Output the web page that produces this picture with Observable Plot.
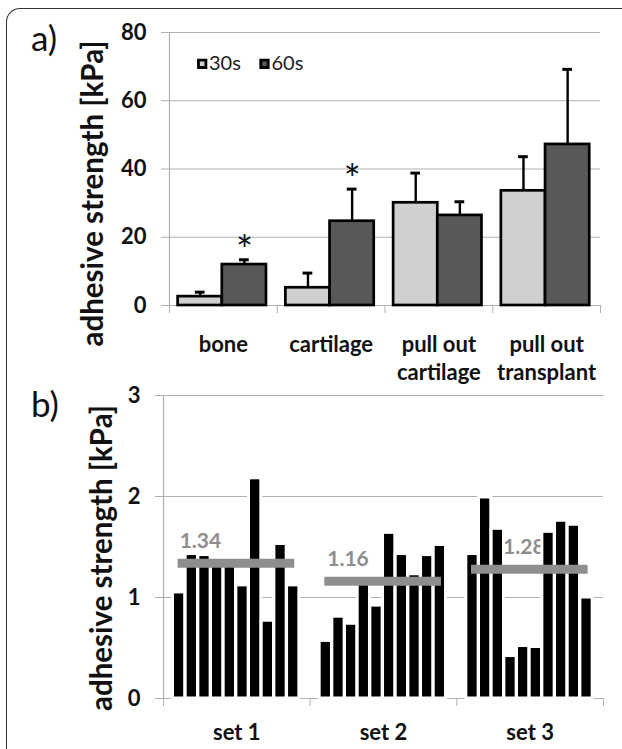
<!DOCTYPE html>
<html>
<head>
<meta charset="utf-8">
<script src="https://cdn.jsdelivr.net/npm/d3@7"></script>
<script src="https://cdn.jsdelivr.net/npm/@observablehq/plot@0.6"></script>
<style>
  html, body { margin: 0; padding: 0; background: #fff; }
  #wrap { position: relative; width: 622px; height: 749px; overflow: hidden; background: #fff; font-family: Lato, sans-serif; }
  #frame { position: absolute; left: 6px; top: 8px; width: 700px; height: 800px; border-left: 1.6px solid #333; border-top: 1.6px solid #333; border-top-left-radius: 14px; }
  .panel { position: absolute; left: 0; }
  .tag { position: absolute; left: 31px; font-size: 35px; color: #111; line-height: 1; }
</style>
</head>
<body>
<div id="wrap">
  <div id="frame"></div>
  <div id="b" class="panel" style="top:380px"></div>
  <div id="a" class="panel" style="top:0px"></div>
  <div class="tag" style="top:20px">a)</div>
  <div class="tag" style="top:386px">b)</div>
</div>
<script>
// ---------- Data: panel a ----------
const categoriesA = ["bone", "cartilage", "pull out\ncartilage", "pull out\ntransplant"];
const seriesA = ["30s", "60s"];
const mean30 = [2.6, 5.2, 30.1, 33.6];
const err30 = [1.3, 4.3, 8.7, 10.0];
const mean60 = [12.0, 24.7, 26.4, 47.2];
const err60 = [1.4, 9.4, 4.0, 22.0];
const significant60 = [true, true, false, false];
const yTicksA = [0, 20, 40, 60, 80];
const yLabel = "adhesive strength [kPa]";

// ---------- Data: panel b ----------
const setsB = ["set 1", "set 2", "set 3"];
const set1 = [1.05, 1.43, 1.42, 1.36, 1.36, 1.12, 2.18, 0.77, 1.53, 1.12];
const set2 = [0.57, 0.81, 0.74, 1.15, 0.92, 1.64, 1.43, 1.23, 1.42, 1.52];
const set3 = [1.43, 1.99, 1.68, 0.42, 0.52, 0.51, 1.65, 1.76, 1.72, 1.00];
const meansB = [1.34, 1.16, 1.28];
const yTicksB = [0, 1, 2, 3];

// ---------- Layout / style ----------
const FONT = "Lato, sans-serif";
const fill30 = "#d0d0d0", fill60 = "#585858";
const gridColor = "#b0b0b0";
const meanColor = "#8e8e8e";
const groupInsetA = 0.08, barWidthA = 0.41;
const groupInsetB = 0.0648, barPitchB = 0.0864, barWidthB = 0.0838;
const meanLineInset = [0.1, 0.105];
const meanLabelPos = [0.252, 0.258, 0.457];

// ---------- Panel a ----------
const rowsA = categoriesA.flatMap((c, i) => seriesA.map((s, j) => {
  const x1 = i + groupInsetA + j * barWidthA;
  const mean = j === 0 ? mean30[i] : mean60[i];
  const err = j === 0 ? err30[i] : err60[i];
  return {cat: i, series: s, x1, x2: x1 + barWidthA, xc: x1 + barWidthA / 2,
          mean, top: mean + err, sig: j === 1 && significant60[i]};
}));
const boundsA = d3.range(categoriesA.length + 1);
const centersA = categoriesA.map((c, i) => i + 0.5);

const plotA = Plot.plot({
  width: 622, height: 380,
  marginLeft: 169, marginRight: 22, marginTop: 32, marginBottom: 75,
  style: {fontFamily: FONT, background: "transparent", overflow: "visible", color: "#111"},
  x: {domain: [0, categoriesA.length]},
  y: {domain: [0, 80]},
  marks: [
    Plot.ruleY(yTicksA.filter(d => d > 0), {stroke: gridColor, strokeWidth: 1.2}),
    Plot.ruleX([0], {stroke: gridColor, strokeWidth: 1.2}),
    Plot.ruleY([0], {stroke: gridColor, strokeWidth: 1.2}),
    Plot.axisY(yTicksA, {tickSize: 8, tickPadding: 15, stroke: gridColor, fill: "#111", fontSize: 22, fontWeight: "bold",
      tickFormat: d => String(d), label: null}),
    Plot.axisX(boundsA, {tickSize: 8, stroke: gridColor, tickFormat: () => "", label: null}),
    Plot.axisX(centersA, {tickSize: 0, tickPadding: 26, fontSize: 22, fontWeight: "bold", fill: "#111", lineHeight: 1.3,
      tickFormat: d => categoriesA[Math.floor(d)], label: null}),
    Plot.rectY(rowsA, {x1: "x1", x2: "x2", y1: 0, y2: "mean",
      fill: d => d.series === "30s" ? fill30 : fill60, stroke: "#000", strokeWidth: 2.7}),
    Plot.ruleX(rowsA, {x: "xc", y1: "mean", y2: "top", stroke: "#000", strokeWidth: 2.4}),
    Plot.ruleY(rowsA, {x1: d => d.xc - 0.045, x2: d => d.xc + 0.045, y: "top", stroke: "#000", strokeWidth: 3}),
    Plot.text(rowsA.filter(d => d.sig), {x: "xc", y: "top", text: () => "*", fontSize: 40, fill: "#111", dy: -8}),
    ...seriesA.map((s, i) => Plot.dot([s], {frameAnchor: "top-left", dx: 32.7 + i * 62.3, dy: 31.3, symbol: "square", r: 4.2,
      fill: i === 0 ? fill30 : fill60, stroke: "#000", strokeWidth: 2.8})),
    ...seriesA.map((s, i) => Plot.text([s], {frameAnchor: "top-left", dx: 39.5 + i * 62.5, dy: 31.3, text: d => d,
      textAnchor: "start", lineAnchor: "middle", fontSize: 20, fill: "#222"})),
    Plot.text([yLabel], {frameAnchor: "left", rotate: -90, dx: -75.5, dy: 24.5, text: d => d,
      textAnchor: "middle", lineAnchor: "middle", fontSize: 29.5, fontWeight: "bold", fill: "#111"})
  ]
});
document.getElementById("a").append(plotA);

// ---------- Panel b ----------
const setValues = [set1, set2, set3];
const rowsB = setValues.flatMap((vals, s) => vals.map((v, i) => {
  const x1 = s + groupInsetB + i * barPitchB;
  return {set: s, x1, x2: x1 + barWidthB, value: v};
}));
const boundsB = d3.range(setsB.length + 1);
const centersB = setsB.map((c, i) => i + 0.5);

const plotB = Plot.plot({
  width: 622, height: 369,
  marginLeft: 163, marginRight: 19, marginTop: 15, marginBottom: 51,
  style: {fontFamily: FONT, background: "transparent", overflow: "visible", color: "#111"},
  x: {domain: [0, setsB.length]},
  y: {domain: [0, 3]},
  marks: [
    Plot.ruleY(yTicksB.filter(d => d > 0), {stroke: gridColor, strokeWidth: 1.2}),
    Plot.ruleX([0], {stroke: gridColor, strokeWidth: 1.2}),
    Plot.ruleY([0], {stroke: gridColor, strokeWidth: 1.2}),
    Plot.axisY(yTicksB, {tickSize: 8, tickPadding: 15, stroke: gridColor, fill: "#111", fontSize: 22, fontWeight: "bold",
      tickFormat: d => String(d), label: null}),
    Plot.axisX(boundsB, {tickSize: 8, stroke: gridColor, tickFormat: () => "", label: null}),
    Plot.axisX(centersB, {tickSize: 0, tickPadding: 26, fontSize: 22, fontWeight: "bold", fill: "#111",
      tickFormat: d => setsB[Math.floor(d)], label: null}),
    Plot.text(meansB, {x: (d, i) => i + meanLabelPos[i], y: d => d, dy: -22, text: d => d.toFixed(2),
      fill: meanColor, fontSize: 21, fontWeight: "bold"}),
    Plot.rectY(rowsB, {x1: "x1", x2: "x2", y1: 0, y2: "value", fill: "#000", stroke: "#fff", strokeWidth: 3}),
    Plot.ruleY(meansB, {x1: (d, i) => i + meanLineInset[0], x2: (d, i) => i + 1 - meanLineInset[1], y: d => d,
      stroke: meanColor, strokeWidth: 9}),
    Plot.text([yLabel], {frameAnchor: "left", rotate: -90, dx: -61, dy: 11, text: d => d,
      textAnchor: "middle", lineAnchor: "middle", fontSize: 29.5, fontWeight: "bold", fill: "#111"})
  ]
});
document.getElementById("b").append(plotB);
</script>
</body>
</html>
